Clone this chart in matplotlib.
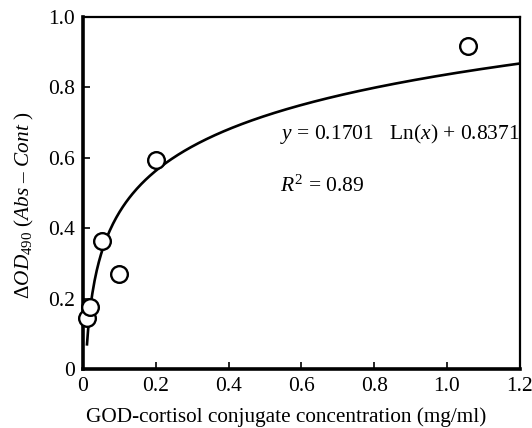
import numpy as np
import matplotlib.pyplot as plt

plt.rcParams["font.family"] = ["Liberation Serif", "DejaVu Serif"]
plt.rcParams["mathtext.fontset"] = "custom"
plt.rcParams["mathtext.rm"] = "Liberation Serif"
plt.rcParams["mathtext.it"] = "Liberation Serif:italic"

# measured points
conc = [0.01, 0.02, 0.052, 0.10, 0.20, 1.057]
delta_od = [0.145, 0.176, 0.364, 0.27, 0.595, 0.918]

# logarithmic fit reported on the chart
fit_a = 0.1701
fit_b = 0.8371
fit_start, fit_end = 0.011, 1.2

xticks = [0, 0.2, 0.4, 0.6, 0.8, 1.0, 1.2]
xtick_labels = ["0", "0.2", "0.4", "0.6", "0.8", "1.0", "1.2"]
yticks = [0, 0.2, 0.4, 0.6, 0.8, 1.0]
ytick_labels = ["0", "0.2", "0.4", "0.6", "0.8", "1.0"]

fig = plt.figure(figsize=(5.32, 4.28), dpi=100)
ax = fig.add_axes([0.156, 0.138, 0.821, 0.822])

xf = np.linspace(fit_start, fit_end, 400)
ax.plot(xf, fit_a * np.log(xf) + fit_b, color="black", lw=1.9, zorder=2)
ax.plot(conc, delta_od, "o", ms=12, mfc="white", mec="black", mew=1.7,
        zorder=3, clip_on=False)

ax.set_xlim(0, 1.2)
ax.set_ylim(0, 1.0)
ax.set_xticks(xticks)
ax.set_xticklabels(xtick_labels)
ax.set_yticks(yticks)
ax.set_yticklabels(ytick_labels)
ax.tick_params(direction="in", length=5, width=1.2, labelsize=15.5, pad=6,
               top=False, right=False)
ax.spines["left"].set_linewidth(2.6)
ax.spines["bottom"].set_linewidth(2.6)
ax.spines["top"].set_linewidth(1.6)
ax.spines["right"].set_linewidth(1.6)

ax.set_xlabel("GOD-cortisol conjugate concentration (mg/ml)", fontsize=15.3)
ax.xaxis.set_label_coords(0.466, -0.11)
ax.set_ylabel(r"$\mathit{\Delta OD}_{490}$ ($\mathit{Abs}$ – $\mathit{Cont}$ )",
              fontsize=15.3)
ax.yaxis.set_label_coords(-0.108, 0.466)

ax.text(0.54, 0.668, r"$y$ = 0.1701   Ln($x$) + 0.8371", fontsize=15.5,
        va="center", ha="left")
ax.text(0.54, 0.52, r"$R^2$ = 0.89", fontsize=15.5, va="center", ha="left")

fig.savefig("out.png", dpi=100)
